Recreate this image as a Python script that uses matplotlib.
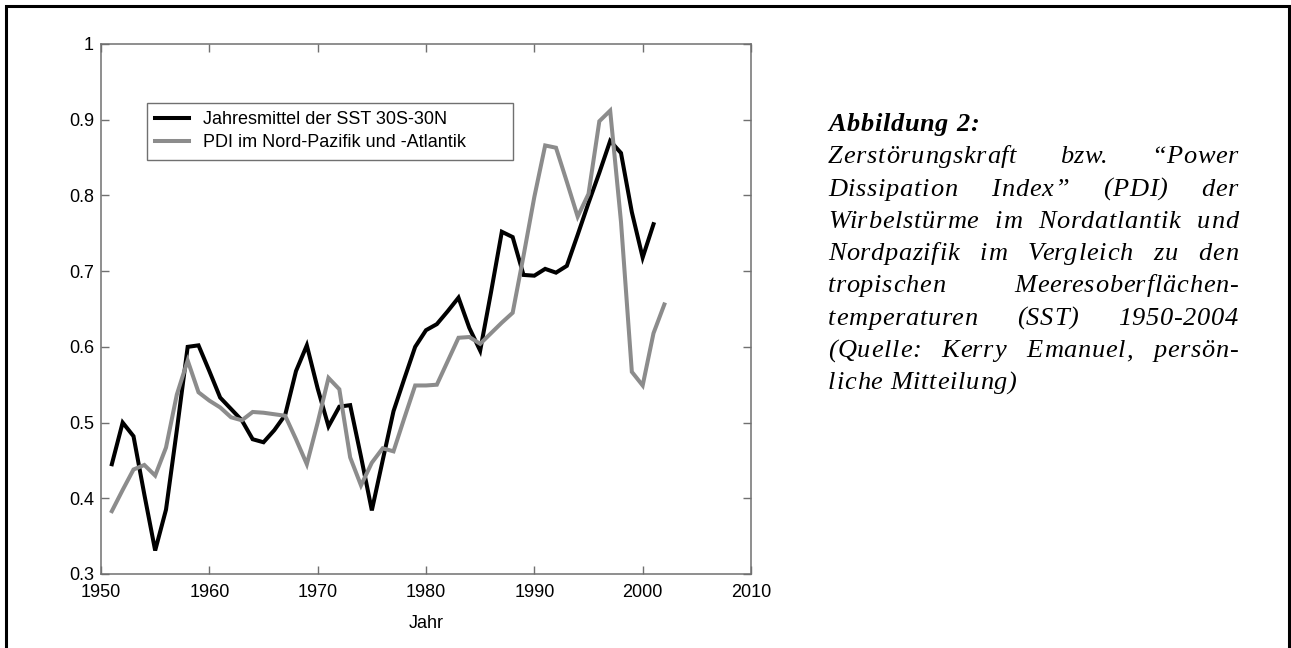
import numpy as np
import matplotlib
matplotlib.use("Agg")
import matplotlib.pyplot as plt
from matplotlib.patches import Rectangle
from matplotlib.font_manager import FontProperties

# Jahresmittel der SST 30S-30N (1951-2001)
sst_years = np.arange(1951, 2002)
sst = [0.445, 0.500, 0.482, 0.405, 0.331, 0.385, 0.490, 0.600, 0.602, 0.568,
       0.533, 0.518, 0.503, 0.478, 0.474, 0.490, 0.510, 0.568, 0.602, 0.545,
       0.495, 0.521, 0.523, 0.455, 0.384, 0.450, 0.515, 0.558, 0.600, 0.622,
       0.630, 0.647, 0.665, 0.625, 0.595, 0.672, 0.752, 0.745, 0.695, 0.694,
       0.703, 0.698, 0.707, 0.748, 0.790, 0.830, 0.872, 0.856, 0.778, 0.718,
       0.762]

# PDI im Nord-Pazifik und -Atlantik (1951-2002)
pdi_years = np.arange(1951, 2003)
pdi = [0.383, 0.411, 0.438, 0.444, 0.430, 0.467, 0.537, 0.582, 0.540, 0.529,
       0.520, 0.507, 0.503, 0.514, 0.513, 0.511, 0.509, 0.478, 0.445, 0.500,
       0.559, 0.544, 0.454, 0.417, 0.447, 0.466, 0.462, 0.506, 0.549, 0.549,
       0.550, 0.581, 0.612, 0.613, 0.604, 0.618, 0.632, 0.645, 0.720, 0.798,
       0.866, 0.863, 0.818, 0.772, 0.802, 0.898, 0.912, 0.765, 0.567, 0.549,
       0.618, 0.656]

labels = ["Jahresmittel der SST 30S-30N", "PDI im Nord-Pazifik und -Atlantik"]
xticks = [1950, 1960, 1970, 1980, 1990, 2000, 2010]
yticks = [0.3, 0.4, 0.5, 0.6, 0.7, 0.8, 0.9, 1.0]
ytick_labels = ["0.3", "0.4", "0.5", "0.6", "0.7", "0.8", "0.9", "1"]

caption_title = "Abbildung 2:"
caption = ["Zerstörungskraft bzw. \u201cPower",
           "Dissipation Index\u201d (PDI) der",
           "Wirbelstürme im Nordatlantik und",
           "Nordpazifik im Vergleich zu den",
           "tropischen Meeresoberflächen-",
           "temperaturen (SST) 1950-2004",
           "(Quelle: Kerry Emanuel, persön-",
           "liche Mitteilung)"]

W, H = 1291, 648
plt.rcParams["font.family"] = ["Liberation Sans", "DejaVu Sans"]
fig = plt.figure(figsize=(W / 100, H / 100), dpi=100)
ax = fig.add_axes([101 / W, 1 - 574 / H, 650 / W, 530 / H])

spine_gray = "#707070"
ax.plot(sst_years, sst, color="black", lw=2.9, label=labels[0], solid_joinstyle="miter")
ax.plot(pdi_years, pdi, color="#8c8c8c", lw=2.9, label=labels[1], solid_joinstyle="miter")

ax.set_xlim(1950, 2010)
ax.set_ylim(0.3, 1.0)
ax.set_xticks(xticks)
ax.set_yticks(yticks)
ax.set_yticklabels(ytick_labels)
ax.tick_params(direction="in", length=5.5, width=1, color=spine_gray,
               labelsize=13, pad=5, top=True, right=True)
ax.tick_params(axis="x", pad=7)
for s in ax.spines.values():
    s.set_color(spine_gray)
    s.set_linewidth(1.1)
ax.set_xlabel("Jahr", fontsize=13, labelpad=10)

leg = ax.legend(loc="upper left", bbox_to_anchor=(46 / 650, 0.0, 366 / 650, 471 / 530),
                mode="expand", borderaxespad=0, fontsize=13, fancybox=False,
                edgecolor=spine_gray, handlelength=1.9, handletextpad=0.75,
                labelspacing=0.35, borderpad=0.45, framealpha=1)
leg.get_frame().set_linewidth(1.0)

# outer frame (bottom edge lies outside the picture)
fig.add_artist(Rectangle((6 / W, -0.05), (1289 - 6) / W, 1.05 - 6 / H,
                         transform=fig.transFigure, fill=False,
                         edgecolor="black", lw=2.2, clip_on=False))

# caption, justified with a little letter spacing
r = fig.canvas.get_renderer()
fp_b = FontProperties(family="Liberation Serif", style="italic", weight="bold", size=19)
fp = FontProperties(family="Liberation Serif", style="italic", size=19)


def tw(s, prop):
    if not s:
        return 0.0
    return r.get_text_width_height_descent(s, prop, ismath=False)[0]


x0, x1 = 828, 1238
track = 0.7
base0, step = 131, 32.3


def put_line(text, ybase, prop, justify):
    words = text.split(" ")
    widths = [tw(wd, prop) + track * (len(wd) - 1) for wd in words]
    gap = tw("a a", prop) - tw("aa", prop) + track * 2
    if justify and len(words) > 1:
        gap = (x1 - x0 - sum(widths)) / (len(words) - 1)
    x = x0
    for wd, wdw in zip(words, widths):
        for i, ch in enumerate(wd):
            cx = x + track * i
            if i > 0:
                cx += tw(wd[:i + 1], prop) - tw(ch, prop)
            fig.text(cx / W, 1 - ybase / H, ch, fontproperties=prop,
                     ha="left", va="baseline")
        x += wdw + gap


put_line(caption_title, base0, fp_b, False)
for k, line in enumerate(caption):
    put_line(line, base0 + step * (k + 1), fp, k < len(caption) - 1)

fig.savefig("out.png", dpi=100)
